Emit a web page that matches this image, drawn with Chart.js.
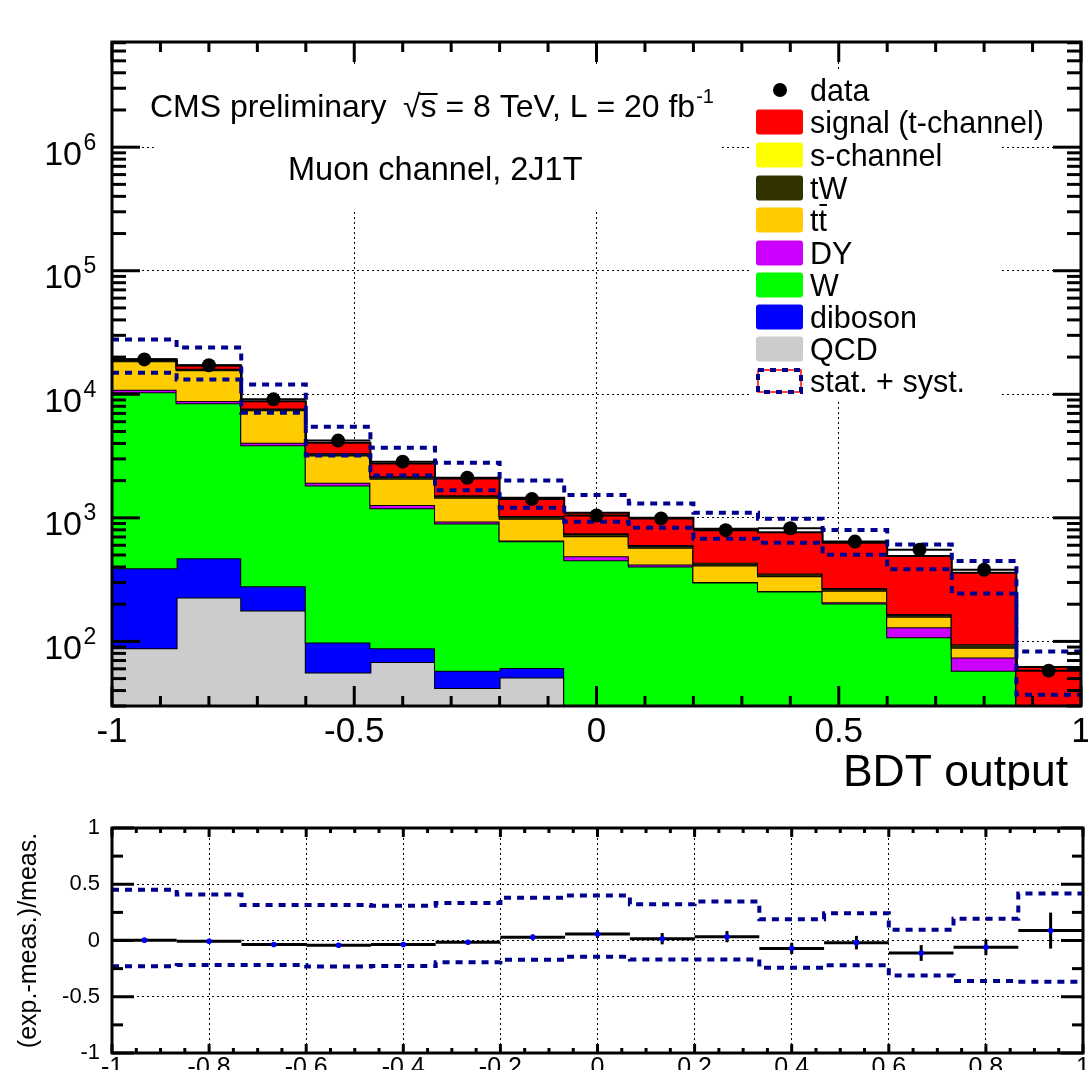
<!DOCTYPE html>
<html>
<head>
<meta charset="utf-8">
<script src="https://cdn.jsdelivr.net/npm/chart.js@4.4.1/dist/chart.umd.min.js"></script>
<style>
  html, body { margin: 0; padding: 0; background: #ffffff; }
  #wrap { position: relative; width: 1088px; height: 1070px; overflow: hidden; background: #fff; }
  #mainBox { position: absolute; left: 0; top: 0; width: 1088px; height: 790px; }
  #ratioBox { position: absolute; left: 0; top: 790px; width: 1088px; height: 280px; }
</style>
</head>
<body>
<div id="wrap">
  <div id="mainBox"><canvas id="main" width="1088" height="790"></canvas></div>
  <div id="ratioBox"><canvas id="ratio" width="1088" height="280"></canvas></div>
</div>
<script>
// ---------------- DATA ----------------
const binEdges   = [-1, -0.8667, -0.7333, -0.6, -0.4667, -0.3333, -0.2, -0.0667, 0.0667, 0.2, 0.3333, 0.4667, 0.6, 0.7333, 0.8667, 1];
const binCenters = [-0.9333, -0.8, -0.6667, -0.5333, -0.4, -0.2667, -0.1333, 0, 0.1333, 0.2667, 0.4, 0.5333, 0.6667, 0.8, 0.9333];

// stacked components (events per bin), bottom to top
const qcd      = [88, 227, 178, 56, 68, 42, 51, 0, 0, 0, 0, 0, 0, 0, 0];
const diboson  = [302, 243, 101, 42, 20, 16, 10, 0, 0, 0, 0, 0, 0, 0, 0];
const wjets    = [10010, 7980, 3581, 1732, 1107, 844, 585, 453, 404, 300, 254, 203, 108, 58, 12];
const dy       = [460, 370, 193, 92, 75, 30, 10, 35, 16, 2, 2, 4, 22, 16, 3];
const ttbar    = [7640, 6850, 3377, 1278, 801, 524, 328, 223, 153, 110, 81, 50, 28, 15, 4];
const tw       = [450, 400, 200, 110, 80, 55, 40, 30, 22, 16, 13, 10, 6, 4, 1];
const schan    = [60, 60, 30, 20, 15, 12, 10, 8, 7, 6, 5, 4, 3, 2, 1];
const signal   = [190, 970, 1130, 730, 588, 560, 422, 350, 400, 382, 411, 358, 323, 265, 41];

const dataCounts = [19150, 17200, 9100, 4220, 2850, 2110, 1420, 1045, 990, 795, 824, 642, 553, 380, 58];

// stat. + syst. envelope in the main panel
const bandUp   = [27700, 23900, 12000, 5460, 3690, 2794, 2010, 1528, 1309, 1099, 984, 796, 609, 447, 83];
const bandDown = [14940, 13200, 7080, 3200, 2200, 1675, 1208, 929, 832, 678, 629, 503, 383, 244, 37];

// ratio panel: (exp.-meas.)/meas.
const ratioVal  = [0.003, -0.006, -0.036, -0.042, -0.036, -0.015, 0.029, 0.058, 0.016, 0.034, -0.07, -0.019, -0.111, -0.061, 0.088];
const ratioErr  = [0.01, 0.01, 0.01, 0.015, 0.02, 0.02, 0.025, 0.035, 0.05, 0.05, 0.05, 0.06, 0.07, 0.07, 0.16];
const ratioUp   = [0.452, 0.41, 0.315, 0.315, 0.31, 0.333, 0.381, 0.40, 0.322, 0.346, 0.19, 0.242, 0.096, 0.194, 0.417];
const ratioDown = [-0.229, -0.217, -0.217, -0.232, -0.226, -0.193, -0.17, -0.144, -0.168, -0.168, -0.242, -0.221, -0.31, -0.36, -0.366];

// axis tick labels
const mainXTicks   = [-1, -0.5, 0, 0.5, 1];
const mainYDecades = [100, 1000, 10000, 100000, 1000000];
const ratioYTicks  = [-1, -0.5, 0, 0.5, 1];

// ---------------- STYLE ----------------
const FONT = '"Liberation Sans", Arimo, Arial, Helvetica, sans-serif';
const BAND_COLOR = '#00008f';
const stackDefs = [
  { label: 'QCD',                vals: qcd,     color: '#cccccc' },
  { label: 'diboson',            vals: diboson, color: '#0000ff' },
  { label: 'W',                  vals: wjets,   color: '#00ff00' },
  { label: 'DY',                 vals: dy,      color: '#cc00ff' },
  { label: 'tt̄',                vals: ttbar,   color: '#ffcc00' },
  { label: 'tW',                 vals: tw,      color: '#333300' },
  { label: 's-channel',          vals: schan,   color: '#ffff00' },
  { label: 'signal (t-channel)', vals: signal,  color: '#ff0000' }
];

function stepPts(vals, floor) {
  return binEdges.map((e, i) => {
    const v = vals[Math.min(i, vals.length - 1)];
    return { x: e, y: floor !== undefined ? Math.max(v, floor) : v };
  });
}
function fmtTick(v) { const r = Math.round(v * 10) / 10; return String(r); }
function noPad(s) { s.paddingLeft = 0; s.paddingRight = 0; s.paddingTop = 0; s.paddingBottom = 0; }

// ---------------- MAIN PANEL ----------------
let running = new Array(binCenters.length).fill(0);
const stackDatasets = stackDefs.map((d, k) => {
  running = running.map((r, i) => r + d.vals[i]);
  return {
    type: 'line', label: d.label, data: stepPts(running, 1), stepped: true,
    borderColor: '#000', borderWidth: 2, backgroundColor: d.color,
    fill: k === 0 ? 'start' : '-1', pointRadius: 0, order: 20 - k
  };
});

const mainDatasets = stackDatasets.concat([
  { type: 'line', label: 'stat. + syst.', data: stepPts(bandUp, 1), stepped: true,
    borderColor: BAND_COLOR, borderWidth: 4, borderDash: [7, 6], fill: false, pointRadius: 0, order: 5 },
  { type: 'line', label: 'stat. + syst. (down)', data: stepPts(bandDown, 1), stepped: true,
    borderColor: BAND_COLOR, borderWidth: 4, borderDash: [7, 6], fill: false, pointRadius: 0, order: 5 },
  { type: 'line', label: 'data', data: binCenters.map((x, i) => ({ x: x, y: dataCounts[i] })),
    showLine: false, pointRadius: 7, pointBackgroundColor: '#000', pointBorderColor: '#000', pointBorderWidth: 0,
    order: 0, errBarsX: true }
]);

function line(ctx, x1, y1, x2, y2) { ctx.beginPath(); ctx.moveTo(x1, y1); ctx.lineTo(x2, y2); ctx.stroke(); }

const errorBarPlugin = {
  id: 'errorBars',
  beforeDatasetDraw(chart, args) {
    const ds = chart.data.datasets[args.index];
    if (!ds.errBarsX && !ds.errBarsY) return;
    const { ctx, chartArea: a } = chart;
    const xs = chart.scales.x, ys = chart.scales.y;
    ctx.save();
    ctx.beginPath(); ctx.rect(a.left, a.top, a.right - a.left, a.bottom - a.top); ctx.clip();
    ctx.strokeStyle = '#000';
    ctx.lineWidth = ds.errWidth || 2;
    ds.data.forEach((p, i) => {
      const py = ys.getPixelForValue(p.y);
      if (ds.errBarsX) {
        line(ctx, xs.getPixelForValue(binEdges[i]), py, xs.getPixelForValue(binEdges[i + 1]), py);
      }
      if (ds.errBarsY) {
        const e = ds.errBarsY[i];
        line(ctx, xs.getPixelForValue(p.x), ys.getPixelForValue(p.y - e), xs.getPixelForValue(p.x), ys.getPixelForValue(p.y + e));
      }
    });
    ctx.restore();
  }
};

const mainDecor = {
  id: 'mainDecor',
  beforeDatasetsDraw(chart) {
    // white boxes of the text pave and legend (they hide grid lines)
    const ctx = chart.ctx;
    ctx.save();
    ctx.fillStyle = '#fff';
    ctx.fillRect(157, 67, 563, 145);
    ctx.fillRect(750, 72, 250, 330);
    ctx.restore();
  },
  afterDraw(chart) {
    const { ctx, chartArea: a, scales: { x, y } } = chart;
    ctx.save();
    // tick marks
    ctx.strokeStyle = '#000'; ctx.lineWidth = 3; ctx.lineCap = 'butt';
    for (let i = 0; i <= 20; i++) {
      const px = x.getPixelForValue(-1 + i * 0.1);
      const L = (i % 5 === 0) ? 20 : 10;
      line(ctx, px, a.bottom, px, a.bottom - L);
      line(ctx, px, a.top, px, a.top + L);
    }
    for (let e = 1; e <= 6; e++) {
      for (let m = 1; m <= 9; m++) {
        const v = m * Math.pow(10, e);
        if (v < y.min || v > y.max) continue;
        const py = y.getPixelForValue(v);
        const L = (m === 1) ? 28 : 14;
        line(ctx, a.left, py, a.left + L, py);
        line(ctx, a.right, py, a.right - L, py);
      }
    }
    ctx.strokeRect(a.left, a.top, a.right - a.left, a.bottom - a.top);

    // y tick labels with superscript exponents
    ctx.fillStyle = '#000';
    mainYDecades.forEach(v => {
      const py = y.getPixelForValue(v);
      const exp = Math.round(Math.log10(v));
      ctx.font = '34px ' + FONT; ctx.textAlign = 'right'; ctx.textBaseline = 'alphabetic';
      ctx.fillText('10', 82, py + 17.5);
      ctx.font = '23px ' + FONT; ctx.textAlign = 'left';
      ctx.fillText(String(exp), 83.5, py + 2.5);
    });

    // x axis title
    ctx.font = '44.5px ' + FONT; ctx.textAlign = 'right'; ctx.textBaseline = 'alphabetic';
    ctx.fillText('BDT output', 1068, 786);

    // CMS text
    ctx.textAlign = 'left';
    ctx.font = '32px ' + FONT;
    ctx.fillText('CMS preliminary', 150, 117);
    const rest = '√s = 8 TeV, L = 20 fb';
    const x0 = 403;
    ctx.fillText(rest, x0, 117);
    const wRoot = ctx.measureText('√').width;
    const wS = ctx.measureText('s').width;
    ctx.lineWidth = 2;
    line(ctx, x0 + wRoot - 1, 94, x0 + wRoot + wS + 1, 94);
    const wRest = ctx.measureText(rest).width;
    ctx.font = '20px ' + FONT;
    ctx.fillText('-1', x0 + wRest + 1, 103);
    ctx.font = '32.5px ' + FONT;
    ctx.fillText('Muon channel, 2J1T', 288, 180);

    // legend
    const rows = [90, 122, 155, 188, 220, 253, 285, 317, 349, 381];
    const items = [{ label: 'data', kind: 'point' }]
      .concat(stackDefs.slice().reverse().map(d => ({ label: d.label, kind: 'box', color: d.color })))
      .concat([{ label: 'stat. + syst.', kind: 'band' }]);
    ctx.font = '30.5px ' + FONT; ctx.textBaseline = 'alphabetic';
    items.forEach((it, i) => {
      const cy = rows[i];
      if (it.kind === 'point') {
        ctx.fillStyle = '#000';
        ctx.beginPath(); ctx.arc(780, cy, 7, 0, Math.PI * 2); ctx.fill();
      } else if (it.kind === 'box') {
        ctx.fillStyle = it.color;
        ctx.beginPath();
        if (ctx.roundRect) ctx.roundRect(756, cy - 12.5, 47, 25, 3); else ctx.rect(756, cy - 12.5, 47, 25);
        ctx.fill();
      } else {
        ctx.setLineDash([]);
        ctx.strokeStyle = '#ff0000'; ctx.lineWidth = 1.5;
        ctx.strokeRect(758, cy - 11, 43, 22);
        ctx.strokeStyle = BAND_COLOR; ctx.lineWidth = 4; ctx.setLineDash([6, 6]);
        ctx.strokeRect(758, cy - 11, 43, 22);
        ctx.setLineDash([]);
      }
      ctx.fillStyle = '#000';
      if (it.label === 'tt̄') {
        ctx.fillText('tt', 810, cy + 11);
        const wt = ctx.measureText('t').width;
        ctx.lineWidth = 2; ctx.strokeStyle = '#000';
        line(ctx, 810 + wt + 1, cy - 15, 810 + 2 * wt, cy - 15);
      } else {
        ctx.fillText(it.label, 810, cy + 11);
      }
    });
    ctx.restore();
  }
};

const gridDotted = { color: '#000', lineWidth: 1, drawTicks: false, borderDash: [2, 3] };
const borderDotted = { display: false, dash: [2, 3] };

new Chart(document.getElementById('main'), {
  type: 'line',
  data: { datasets: mainDatasets },
  options: {
    responsive: false, animation: false, devicePixelRatio: 1,
    layout: { padding: { top: 42, right: 5, left: 0, bottom: 0 } },
    plugins: { legend: { display: false }, tooltip: { enabled: false }, filler: { propagate: false } },
    scales: {
      x: {
        type: 'linear', min: -1, max: 1, position: 'bottom',
        afterFit: s => { s.height = 84; noPad(s); },
        afterBuildTicks: s => { s.ticks = mainXTicks.map(v => ({ value: v })); },
        ticks: { autoSkip: false, maxRotation: 0, padding: 5, color: '#000',
                 font: { family: FONT, size: 35 }, callback: v => fmtTick(v) },
        grid: gridDotted, border: borderDotted
      },
      y: {
        type: 'logarithmic', min: 30, max: 7.1e6, position: 'left',
        afterFit: s => { s.width = 112; noPad(s); },
        afterBuildTicks: s => { s.ticks = mainYDecades.map(v => ({ value: v, major: true })); },
        ticks: { display: false },
        grid: gridDotted, border: borderDotted
      }
    }
  },
  plugins: [errorBarPlugin, mainDecor]
});

// ---------------- RATIO PANEL ----------------
const ratioDecor = {
  id: 'ratioDecor',
  afterDraw(chart) {
    const { ctx, chartArea: a, scales: { x, y } } = chart;
    ctx.save();
    ctx.strokeStyle = '#000'; ctx.lineWidth = 3;
    for (let i = 0; i <= 40; i++) {
      const px = x.getPixelForValue(-1 + i * 0.05);
      const L = (i % 4 === 0) ? 9 : 5;
      line(ctx, px, a.bottom, px, a.bottom - L);
      line(ctx, px, a.top, px, a.top + L);
    }
    for (let i = 0; i <= 8; i++) {
      const py = y.getPixelForValue(-1 + i * 0.25);
      const L = (i % 2 === 0) ? 22 : 11;
      line(ctx, a.left, py, a.left + L, py);
      line(ctx, a.right, py, a.right - L, py);
    }
    ctx.strokeRect(a.left, a.top, a.right - a.left, a.bottom - a.top);
    ctx.restore();
  }
};

new Chart(document.getElementById('ratio'), {
  type: 'line',
  data: {
    datasets: [
      { type: 'line', label: 'stat. + syst. up', data: stepPts(ratioUp), stepped: true,
        borderColor: BAND_COLOR, borderWidth: 4, borderDash: [7, 6], fill: false, pointRadius: 0, order: 5 },
      { type: 'line', label: 'stat. + syst. down', data: stepPts(ratioDown), stepped: true,
        borderColor: BAND_COLOR, borderWidth: 4, borderDash: [7, 6], fill: false, pointRadius: 0, order: 5 },
      { type: 'line', label: '(exp.-meas.)/meas.', data: binCenters.map((x, i) => ({ x: x, y: ratioVal[i] })),
        showLine: false, pointRadius: 2.8, pointBackgroundColor: '#0000ff', pointBorderWidth: 0,
        order: 0, errBarsX: true, errBarsY: ratioErr, errWidth: 3 }
    ]
  },
  options: {
    responsive: false, animation: false, devicePixelRatio: 1,
    layout: { padding: { top: 38, right: 5, left: 0, bottom: 0 } },
    plugins: { legend: { display: false }, tooltip: { enabled: false } },
    scales: {
      x: {
        type: 'linear', min: -1, max: 1, position: 'bottom',
        afterFit: s => { s.height = 17; noPad(s); },
        ticks: { stepSize: 0.2, autoSkip: false, maxRotation: 0, padding: 0, color: '#000',
                 font: { family: FONT, size: 25 }, callback: v => fmtTick(v) },
        grid: gridDotted, border: borderDotted
      },
      y: {
        type: 'linear', min: -1, max: 1, position: 'left',
        afterFit: s => { s.width = 112; noPad(s); },
        afterBuildTicks: s => { s.ticks = ratioYTicks.map(v => ({ value: v })); },
        ticks: { padding: 12, color: '#000', font: { family: FONT, size: 22 }, callback: v => fmtTick(v) },
        grid: gridDotted, border: borderDotted,
        title: { display: true, text: '(exp.-meas.)/meas.', color: '#000',
                 font: { family: FONT, size: 25 }, padding: { top: 14, bottom: 0 } }
      }
    }
  },
  plugins: [errorBarPlugin, ratioDecor]
});
</script>
</body>
</html>
